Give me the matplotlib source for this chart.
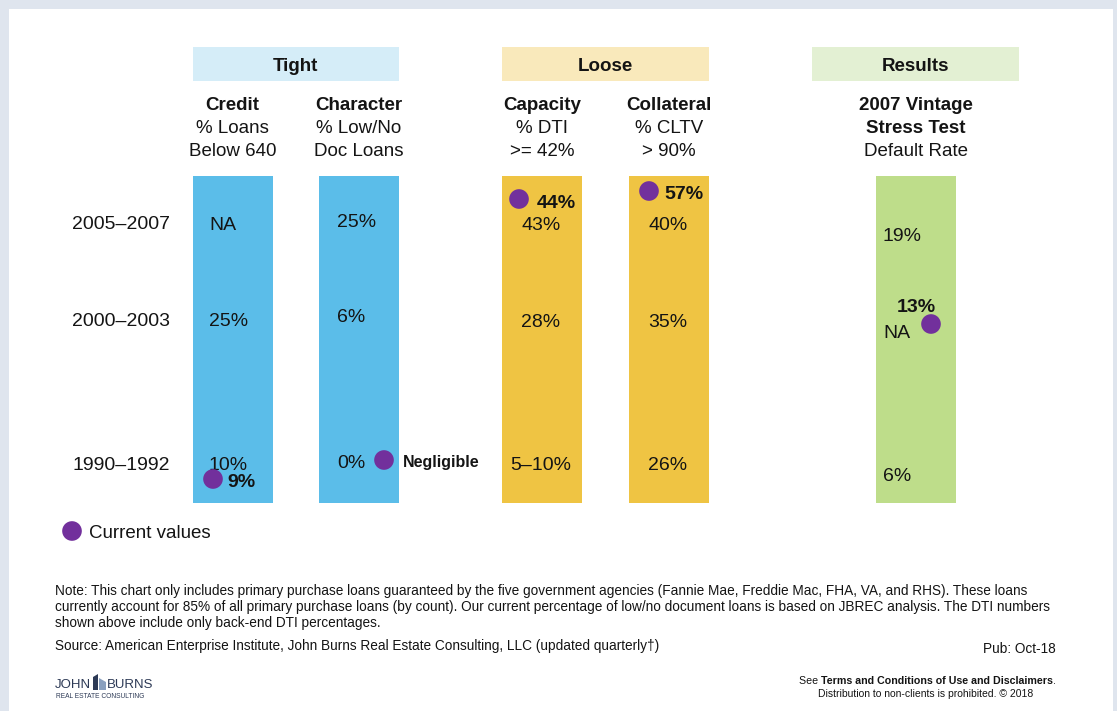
import matplotlib
matplotlib.use("Agg")
import matplotlib.pyplot as plt
from matplotlib.patches import Rectangle, Polygon

plt.rcParams['font.family'] = ['Liberation Sans', 'DejaVu Sans']

# ---------------- data ----------------
periods = ["2005–2007", "2000–2003", "1990–1992"]
groups = ["Tight", "Loose", "Results"]
col_titles = ["Credit", "Character", "Capacity", "Collateral", "2007 Vintage\nStress Test"]
col_subtitles = ["% Loans\nBelow 640", "% Low/No\nDoc Loans", "% DTI\n>= 42%", "% CLTV\n> 90%", "Default Rate"]
credit_vals = ["NA", "25%", "10%"]
character_vals = ["25%", "6%", "0%"]
capacity_vals = ["43%", "28%", "5–10%"]
collateral_vals = ["40%", "35%", "26%"]
results_vals = ["19%", "NA", "6%"]
current_labels = ["9%", "Negligible", "44%", "57%", "13%"]
legend_label = "Current values"

note_lines = [
    "Note: This chart only includes primary purchase loans guaranteed by the five government agencies (Fannie Mae, Freddie Mac, FHA, VA, and RHS). These loans",
    "currently account for 85% of all primary purchase loans (by count). Our current percentage of low/no document loans is based on JBREC analysis. The DTI numbers",
    "shown above include only back-end DTI percentages.",
]
source_text = "Source: American Enterprise Institute, John Burns Real Estate Consulting, LLC (updated quarterly†)"
pub_text = "Pub: Oct-18"

# ---------------- styling / layout ----------------
W, H = 1117, 711
BG = "#dfe5ee"
PURPLE = "#72309c"
TXT = "#141414"
bar_colors = ["#5bbde9", "#5bbde9", "#efc443", "#efc443", "#bedd8a"]
group_colors = ["#d5edf8", "#f9e9bb", "#e3f0d3"]

col_x = [232.5, 359, 542, 669, 915.5]
bar_w = 80
bar_top, bar_bot = 176, 503
group_box = [(192.5, 399), (502, 709), (811.5, 1019)]
box_top, box_bot = 47, 81

row_label_y = [222, 319, 463]
row_label_right = 170
val_y = [[223, 319, 463], [220, 315, 461], [223, 320, 463], [223, 320, 463], [234, 331, 474]]
val_pos = [(209, 'left'), (337, 'left'), (541, 'center'), (668, 'center'), (883, 'left')]
dot_pos = [(213, 479), (384, 460), (519, 199), (649, 191), (931, 324)]
lab_pos = [(227, 480, 'left'), (403, 461, 'left'), (537, 201, 'left'), (664, 192, 'left'), (916.5, 305, 'center')]
lab_size = [14, 11.5, 14, 14, 14]

fig = plt.figure(figsize=(W / 100, H / 100), dpi=100, facecolor=BG)
ax = fig.add_axes([0, 0, 1, 1])
ax.set_xlim(0, W)
ax.set_ylim(H, 0)
ax.axis('off')

# white panel
ax.add_patch(Rectangle((9, 9), 1104, 720, facecolor="white", edgecolor="none", zorder=0))

PT2PX = 100 / 72.0


def ctext(x, y, s, size, weight='normal', ha='center', color=TXT, **kw):
    # place text so that its cap-height centre sits at y
    return ax.text(x, y + 0.358 * size * PT2PX, s, fontsize=size, fontweight=weight,
                   ha=ha, va='baseline', color=color, **kw)


# group header boxes
for (x0, x1), gname, gc in zip(group_box, groups, group_colors):
    ax.bar((x0 + x1) / 2, box_bot - box_top, bottom=box_top, width=x1 - x0,
           color=gc, edgecolor='none', zorder=1)
    ctext((x0 + x1) / 2, 64, gname, 13.5, weight='bold')

# column headers
for cx, title, sub in zip(col_x, col_titles, col_subtitles):
    y = 103
    for line in title.split("\n"):
        ctext(cx, y, line, 13.5, weight='bold')
        y += 23.3
    for line in sub.split("\n"):
        ctext(cx, y, line, 13.5)
        y += 23.3

# bars
ax.bar(col_x, [bar_bot - bar_top] * len(col_x), bottom=bar_top, width=bar_w,
       color=bar_colors, edgecolor='none', zorder=1)

# row labels
for p, y in zip(periods, row_label_y):
    ctext(row_label_right, y, p, 14, ha='right')

# period values
all_vals = [credit_vals, character_vals, capacity_vals, collateral_vals, results_vals]
for vals, ys, (vx, ha) in zip(all_vals, val_y, val_pos):
    for v, y in zip(vals, ys):
        ctext(vx, y, v, 14, ha=ha, zorder=3)

# current values (dots + bold labels)
ax.scatter([p[0] for p in dot_pos], [p[1] for p in dot_pos], s=200, color=PURPLE,
           edgecolors='none', zorder=4)
for lab, (lx, ly, ha), sz in zip(current_labels, lab_pos, lab_size):
    ctext(lx, ly, lab, sz, weight='bold', ha=ha, zorder=4)

# legend
ax.scatter([72], [531], s=200, color=PURPLE, edgecolors='none', zorder=4)
ctext(89, 531, legend_label, 13.5, ha='left')

# notes
for i, line in enumerate(note_lines):
    ctext(55, 590 + i * 16, line, 9.8, ha='left')
ctext(55, 645, source_text, 9.8, ha='left')
ctext(1056, 648, pub_text, 9.8, ha='right')

# logo
LOGO = "#2d3a56"
ctext(55, 683, "JOHN", 9.5, ha='left', color=LOGO)
ax.add_patch(Polygon([[93, 690], [93, 677], [98, 674], [98, 690]], closed=True,
                     facecolor=LOGO, edgecolor='none'))
ax.add_patch(Polygon([[99, 678], [106, 682], [106, 690], [99, 690]], closed=True,
                     facecolor="#8aa0bf", edgecolor='none'))
ctext(107, 683, "BURNS", 9.5, ha='left', color=LOGO)
ctext(56, 696, "REAL ESTATE CONSULTING", 4.8, ha='left', color=LOGO)

# terms
fig.canvas.draw()
r = fig.canvas.get_renderer()
t_dot = ctext(1056, 680, ".", 7.7, ha='right')
bb = t_dot.get_window_extent(r)
t_bold = ctext(bb.x0, 680, "Terms and Conditions of Use and Disclaimers", 7.7, weight='bold', ha='right')
bb2 = t_bold.get_window_extent(r)
ctext(bb2.x0, 680, "See ", 7.7, ha='right')
ctext(926, 693, "Distribution to non-clients is prohibited. © 2018", 7.5)

fig.savefig("out.png", dpi=100, facecolor=BG)
